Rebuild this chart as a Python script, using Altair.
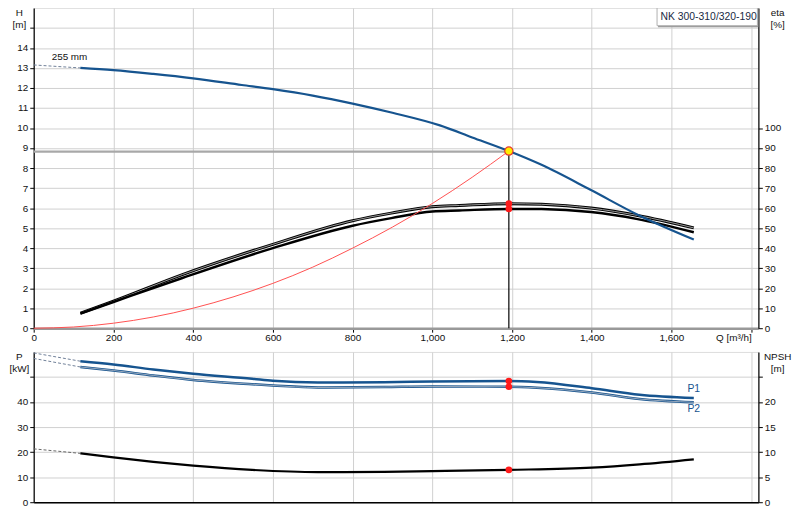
import altair as alt
import pandas as pd

FONT = "Liberation Sans"
BLUE = "#16548f"

# ---------------- data ----------------
Q_TICKS = [0, 200, 400, 600, 800, 1000, 1200, 1400, 1600, 1800]
H_TICKS = list(range(0, 16))
ETA_TICKS = list(range(0, 101, 10))
P_TICKS = [0, 10, 20, 30, 40, 50]
NPSH_TICKS = [0, 5, 10, 15, 20, 25]

# head curve H [m]
h_q = [117, 200, 300, 400, 522, 600, 700, 800, 900, 1019, 1100, 1192, 1274, 1398, 1515, 1656]
h_val = [13.0, 12.89, 12.7, 12.48, 12.15, 11.94, 11.62, 11.22, 10.76, 10.13, 9.53, 8.85, 8.16, 6.9, 5.67, 4.43]
h_ext_q = [0, 117]
h_ext_val = [13.15, 13.0]

# system curve
sys_q = [0, 100, 200, 300, 400, 500, 600, 700, 800, 900, 1000, 1100, 1192]
sys_h = [0.0, 0.06, 0.25, 0.56, 1.0, 1.56, 2.24, 3.05, 4.0, 5.05, 6.23, 7.54, 8.85]

# duty point
duty_q = [1192]
duty_h = [8.85]
duty_line_h = [8.82, 8.82]
duty_line_eta = [0, 88.5]

# efficiency curves eta [%]
eta_q = [117, 200, 373, 600, 800, 897, 1000, 1068, 1192, 1274, 1398, 1515, 1656]
eta_upper = [7.5, 13.5, 26.8, 41.9, 53.7, 57.5, 60.7, 61.3, 62.2, 61.9, 60.0, 56.3, 50.1]
eta_lower = [7.3, 13.1, 25.1, 40.0, 51.2, 55.0, 58.3, 58.8, 59.6, 59.5, 58.0, 54.5, 47.9]
eta_duty = [62.2, 59.6]

# power curves P [kW]
p_q = [117, 200, 300, 400, 548, 600, 713, 879, 1000, 1192, 1262, 1400, 1520, 1656]
p1_val = [56.3, 55.0, 53.0, 51.3, 49.3, 48.5, 47.8, 47.9, 48.2, 48.4, 48.0, 45.5, 42.9, 41.6]
p2_val = [54.0, 52.6, 50.6, 48.8, 47.1, 46.6, 45.8, 46.0, 46.2, 46.1, 45.7, 43.8, 41.2, 39.9]
p_ext_q = [0, 117]
p1_ext = [59.6, 56.3]
p2_ext = [57.4, 54.0]
p_duty = [48.4, 46.1]

# NPSH [m]
npsh_q = [117, 200, 300, 400, 548, 713, 879, 1000, 1192, 1400, 1520, 1656]
npsh_val = [9.75, 8.95, 8.05, 7.3, 6.45, 6.0, 6.05, 6.2, 6.45, 6.9, 7.55, 8.55]
npsh_ext = [10.65, 9.75]
npsh_duty = [6.45]

curve_label = "255 mm"
pump_name = "NK 300-310/320-190"
p_labels = ["P1", "P2"]
p_label_q = [1640, 1640]
p_label_val = [45.2, 37.3]

# ---------------- scales & axes ----------------
xs = alt.Scale(domain=[0, 1818], nice=False, zero=False)
hs = alt.Scale(domain=[0, 16], nice=False, zero=False)
es = alt.Scale(domain=[0, 160], nice=False, zero=False)
ps = alt.Scale(domain=[0, 60], nice=False, zero=False)
ns = alt.Scale(domain=[0, 30], nice=False, zero=False)

base_axis = dict(labelFont=FONT, labelFontSize=10, labelColor="#111",
                 titleFont=FONT, titleFontSize=10, titleFontWeight="normal",
                 titleColor="#111", tickColor="black", tickSize=4,
                 gridColor="#cfcfcf", gridWidth=1)

x_top = alt.X("Q:Q", scale=xs, axis=alt.Axis(
    values=Q_TICKS, grid=True, title=None, labelPadding=0,
    labelExpr="datum.value == 1800 ? 'Q [m³/h]' : format(datum.value, ',')",
    labelAlign={"condition": {"test": "datum.value == 1800", "value": "right"}, "value": "center"},
    labelFlush=False, labelOverlap=False,
    domainColor="#999", domainWidth=2.5, **base_axis))

x_bot = alt.X("Q:Q", scale=xs, axis=alt.Axis(
    values=Q_TICKS, grid=True, title=None, labels=False, ticks=False,
    domainColor="black", domainWidth=1.5, **base_axis))

def left_title(lines):
    return dict(title=lines, titleAngle=0, titleX=-15, titleY=8, titleAlign="center",
                titleBaseline="alphabetic", titleLineHeight=12, labelPadding=2)

def right_title(lines):
    return dict(title=lines, titleAngle=0, titleX=19, titleY=8, titleAlign="center",
                titleBaseline="alphabetic", titleLineHeight=12, labelPadding=2)

y_h = alt.Y("H:Q", scale=hs, axis=alt.Axis(
    values=H_TICKS, grid=True, labelExpr="datum.value <= 14 ? datum.label : ''",
    domainColor="black", domainWidth=1.2, **left_title(["H", "[m]"]), **base_axis))

y_e = alt.Y("E:Q", scale=es, axis=alt.Axis(
    orient="right", values=ETA_TICKS, grid=False,
    domainColor="black", domainWidth=1.2, **right_title(["eta", "[%]"]), **base_axis))

y_p = alt.Y("P:Q", scale=ps, axis=alt.Axis(
    values=P_TICKS, grid=True, labelExpr="datum.value <= 40 ? datum.label : ''",
    domainColor="black", domainWidth=1.2, **left_title(["P", "[kW]"]), **base_axis))

y_n = alt.Y("N:Q", scale=ns, axis=alt.Axis(
    orient="right", values=NPSH_TICKS, grid=False, labelExpr="datum.value <= 20 ? datum.label : ''",
    domainColor="black", domainWidth=1.2, **right_title(["NPSH", "[m]"]), **base_axis))

# ---------------- top panel ----------------
df_sys = pd.DataFrame({"Q": sys_q, "H": sys_h})
df_h = pd.DataFrame({"Q": h_q, "H": h_val})
df_hext = pd.DataFrame({"Q": h_ext_q, "H": h_ext_val})
df_dline = pd.DataFrame({"Q": [0, duty_q[0]], "H": duty_line_h})
df_duty = pd.DataFrame({"Q": duty_q, "H": duty_h})
df_lbl = pd.DataFrame({"Q": [45], "H": [13.3], "t": [curve_label]})
df_name = pd.DataFrame({"t": [pump_name]})

sys_line = alt.Chart(df_sys).mark_line(color="#ff5050", strokeWidth=1, interpolate="monotone").encode(x=x_top, y=y_h)
duty_hline = alt.Chart(df_dline).mark_line(color="#a8a8a8", strokeWidth=2.5).encode(x=x_top, y=y_h)
h_ext = alt.Chart(df_hext).mark_line(color="#6f7f98", strokeWidth=1, strokeDash=[3, 2]).encode(x=x_top, y=y_h)
h_line = alt.Chart(df_h).mark_line(color=BLUE, strokeWidth=2.2, interpolate="monotone").encode(x=x_top, y=y_h)
duty_pt = alt.Chart(df_duty).mark_point(filled=True, fill="#ffee00", stroke="#e8382a", strokeWidth=1.2,
                                        size=70, opacity=1, shape="circle").encode(x=x_top, y=y_h)
lbl = alt.Chart(df_lbl).mark_text(align="left", baseline="bottom", font=FONT, fontSize=10,
                                  color="#111").encode(x=x_top, y=y_h, text="t:N")
name_shadow = alt.Chart(df_name).mark_rect(fill="#9a9a9a").encode(
    x=alt.value(631.5), x2=alt.value(733), y=alt.value(1), y2=alt.value(19.5))
name_box = alt.Chart(df_name).mark_rect(fill="white", stroke="#b0b0b0", strokeWidth=1).encode(
    x=alt.value(630.5), x2=alt.value(732), y=alt.value(0), y2=alt.value(18))
name_txt = alt.Chart(df_name).mark_text(align="left", baseline="middle", font=FONT, fontSize=10.5,
                                        color="#1a2a44").encode(x=alt.value(634), y=alt.value(9.5), text="t:N")

df_eu = pd.DataFrame({"Q": eta_q, "E": eta_upper})
df_el = pd.DataFrame({"Q": eta_q, "E": eta_lower})
df_ed = pd.DataFrame({"Q": [duty_q[0]] * 2, "E": eta_duty})
df_vline = pd.DataFrame({"Q": [duty_q[0], duty_q[0]], "E": duty_line_eta})

eu_out = alt.Chart(df_eu).mark_line(color="black", strokeWidth=3, interpolate="monotone").encode(x=x_top, y=y_e)
eu_in = alt.Chart(df_eu).mark_line(color="#9a9a9a", strokeWidth=1, interpolate="monotone").encode(x=x_top, y=y_e)
el_line = alt.Chart(df_el).mark_line(color="black", strokeWidth=2.5, interpolate="monotone").encode(x=x_top, y=y_e)
duty_vline = alt.Chart(df_vline).mark_line(color="black", strokeWidth=1.2).encode(x=x_top, y=y_e)
e_dots = alt.Chart(df_ed).mark_circle(color="#ff1a1a", size=45, opacity=1).encode(x=x_top, y=y_e)

e_layer = alt.layer(eu_out, eu_in, el_line, duty_vline, e_dots)
h_layer = alt.layer(sys_line, duty_hline, h_ext, h_line, lbl, name_shadow, name_box, name_txt, duty_pt)

top = alt.layer(e_layer, h_layer).resolve_scale(y="independent").properties(width=733, height=324)

# ---------------- bottom panel ----------------
df_p1 = pd.DataFrame({"Q": p_q, "P": p1_val})
df_p2 = pd.DataFrame({"Q": p_q, "P": p2_val})
df_p1e = pd.DataFrame({"Q": p_ext_q, "P": p1_ext})
df_p2e = pd.DataFrame({"Q": p_ext_q, "P": p2_ext})
df_pd = pd.DataFrame({"Q": [duty_q[0]] * 2, "P": p_duty})
df_pl = pd.DataFrame({"Q": p_label_q, "P": p_label_val, "t": p_labels})

p1e = alt.Chart(df_p1e).mark_line(color="#6f7f98", strokeWidth=1, strokeDash=[3, 2]).encode(x=x_bot, y=y_p)
p2e = alt.Chart(df_p2e).mark_line(color="#6f7f98", strokeWidth=1, strokeDash=[3, 2]).encode(x=x_bot, y=y_p)
p1l = alt.Chart(df_p1).mark_line(color=BLUE, strokeWidth=2.5, interpolate="monotone").encode(x=x_bot, y=y_p)
p2o = alt.Chart(df_p2).mark_line(color=BLUE, strokeWidth=2.5, interpolate="monotone").encode(x=x_bot, y=y_p)
p2i = alt.Chart(df_p2).mark_line(color="#a9b3c2", strokeWidth=0.9, interpolate="monotone").encode(x=x_bot, y=y_p)
pdots = alt.Chart(df_pd).mark_circle(color="#ff1a1a", size=45, opacity=1).encode(x=x_bot, y=y_p)
plab = alt.Chart(df_pl).mark_text(align="left", baseline="middle", font=FONT, fontSize=10.5,
                                  color=BLUE).encode(x=x_bot, y=y_p, text="t:N")

p_layer = alt.layer(p1e, p2e, p1l, p2o, p2i, pdots, plab)

df_n = pd.DataFrame({"Q": npsh_q, "N": npsh_val})
df_ne = pd.DataFrame({"Q": p_ext_q, "N": npsh_ext})
df_nd = pd.DataFrame({"Q": duty_q, "N": npsh_duty})

ne = alt.Chart(df_ne).mark_line(color="#666", strokeWidth=1, strokeDash=[3, 2]).encode(x=x_bot, y=y_n)
nl = alt.Chart(df_n).mark_line(color="black", strokeWidth=2.2, interpolate="monotone").encode(x=x_bot, y=y_n)
nd = alt.Chart(df_nd).mark_circle(color="#ff1a1a", size=45, opacity=1).encode(x=x_bot, y=y_n)

n_layer = alt.layer(ne, nl, nd)

bottom = alt.layer(p_layer, n_layer).resolve_scale(y="independent").properties(width=733, height=152)

chart = alt.vconcat(top, bottom, spacing=7).properties(
    padding={"left": 0, "top": -4, "right": 0, "bottom": 0}
).configure_view(stroke="#9a9a9a", strokeWidth=1).configure_axis(
    titleFontWeight="normal"
).configure(background="white")

chart.save("out.html", embed_options={"renderer": "svg", "actions": False})
